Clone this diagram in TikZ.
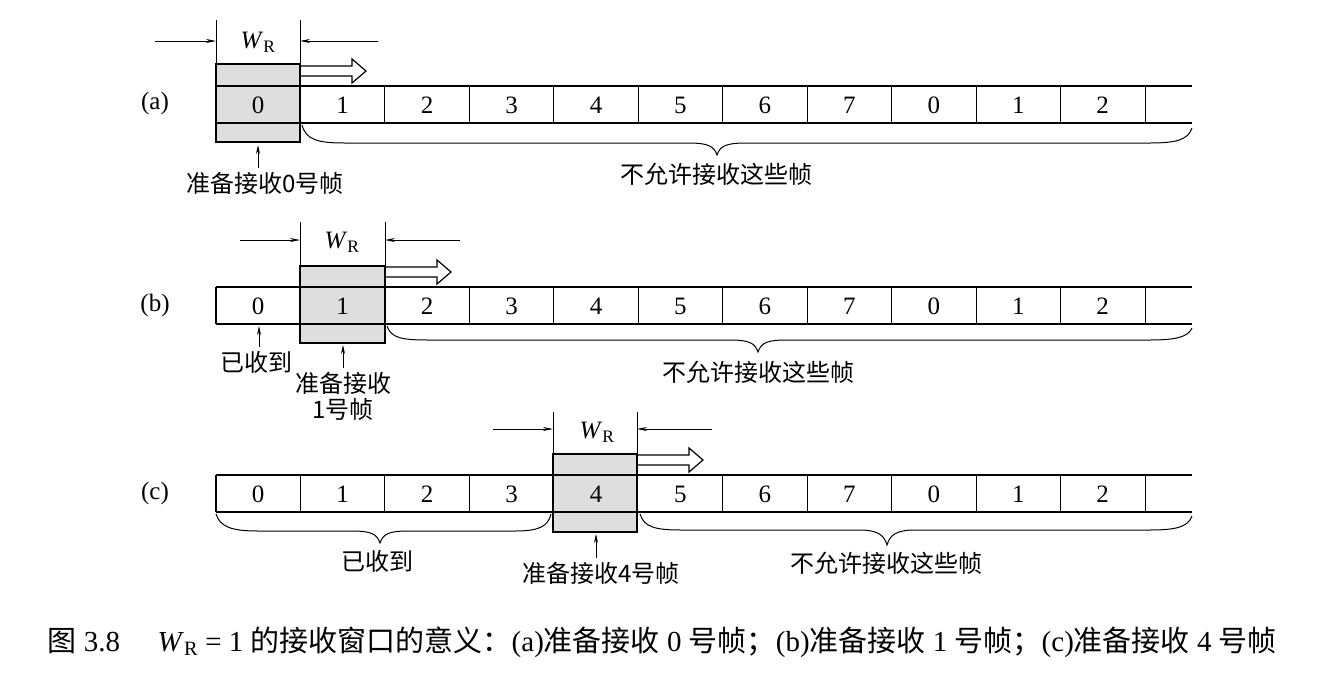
\documentclass[tikz,border=0pt]{standalone}
\usepackage{fontspec}
\setmainfont{Liberation Serif}
\newfontfamily\cjk{Noto Sans CJK SC}
\usetikzlibrary{arrows.meta}

\tikzset{
  win/.style={fill=black!13, line width=1.3pt},
  strip/.style={line width=1.6pt},
  cellsep/.style={line width=0.9pt},
  dim/.style={line width=0.6pt},
  dimarr/.style={line width=0.8pt, -{Stealth[length=10pt,width=4pt]}},
  uparr/.style={line width=0.8pt, -{Stealth[length=9pt,width=4pt]}},
  brc/.style={line width=1pt},
  hollow/.style={line width=1.2pt},
  num/.style={font=\fontsize{25}{28}\selectfont},
  zh/.style={font=\fontsize{24}{26}\selectfont\cjk},
}

\begin{document}
\begin{tikzpicture}[x=1pt,y=-1pt]
\useasboundingbox (0,0) rectangle (1318,678);

% (a)
\filldraw[win] (216,64) rectangle (300,142);
\draw[strip] (216,86) -- (1192,86) (216,123) -- (1192,123);
\foreach \i in {2,...,11} \draw[cellsep] ({216+84.45*\i},86) -- ++(0,37);
\draw[win, fill=none] (216,64) rectangle (300,142);
\foreach \n [count=\i from 0] in {0,1,2,3,4,5,6,7,0,1,2}
  \node[num] (a\i) at ({258.2+84.45*\i},105) {\n};
\draw[hollow] (300,66) -- (352,66) -- (352,59) -- (366,71) -- (352,83) -- (352,76) -- (300,76);
\node[num] (rowa) at (155,103) {(a)};
\draw[dim] (216,20) -- (216,64) (300,20) -- (300,64);
\node[num] (wra) at (258,42) {\textit{W}\textsubscript{R}};
\coordinate (wal) at (216,41);
\coordinate (war) at (300,41);
\draw[dimarr] (155,41) -- (wal);
\draw[dimarr] (378,41) -- (war);
\draw[brc] (302,125) .. controls (306,140) and (318,143) .. (345,143) -- (688,143)
  .. controls (708,143) and (714,146) .. (717,155) .. controls (720,146) and (726,143) .. (746,143)
  -- (1150,143) .. controls (1176,143) and (1188,140) .. (1192,128);
\node[zh] (noa) at (716,174) {不允许接收这些帧};
\node[zh] (rdya) at (265,183) {准备接收0号帧};
\coordinate (ta) at (258,145);
\draw[uparr] (ta |- rdya.north) -- (ta);

% (b)
\filldraw[win] (300,266) rectangle (385,343);
\draw[strip] (216,287) -- (1192,287) (216,324) -- (1192,324) (216,287) -- (216,324);
\foreach \i in {3,...,11} \draw[cellsep] ({216+84.45*\i},287) -- ++(0,37);
\draw[win, fill=none] (300,266) rectangle (385,343);
\foreach \n [count=\i from 0] in {0,1,2,3,4,5,6,7,0,1,2}
  \node[num] (b\i) at ({258.2+84.45*\i},306) {\n};
\draw[hollow] (385,267) -- (437,267) -- (437,260) -- (451,272) -- (437,284) -- (437,277) -- (385,277);
\node[num] (rowb) at (155,305) {(b)};
\draw[dim] (300,222) -- (300,266) (385,222) -- (385,266);
\node[num] (wrb) at (342,242) {\textit{W}\textsubscript{R}};
\coordinate (wbl) at (300,240);
\coordinate (wbr) at (385,240);
\draw[dimarr] (240,240) -- (wbl);
\draw[dimarr] (460,240) -- (wbr);
\draw[brc] (387,326) .. controls (391,338) and (402,340) .. (428,340) -- (730,340)
  .. controls (749,340) and (755,343) .. (758,352) .. controls (761,343) and (767,340) .. (786,340)
  -- (1150,340) .. controls (1176,340) and (1188,337) .. (1192,328);
\node[zh] (nob) at (758,372) {不允许接收这些帧};
\node[zh] (gotb) at (256,362) {已收到};
\coordinate (tb0) at (259,326);
\draw[uparr] (tb0 |- gotb.north) -- (tb0);
\node[zh, align=center] (rdyb) at (343,396) {准备接收\\1号帧};
\coordinate (tb1) at (343,345);
\draw[uparr] (tb1 |- rdyb.north) -- (tb1);

% (c)
\filldraw[win] (553,454) rectangle (637,532);
\draw[strip] (216,475) -- (1192,475) (216,512) -- (1192,512) (216,475) -- (216,512);
\foreach \i in {1,2,3,6,7,8,9,10,11} \draw[cellsep] ({216+84.45*\i},475) -- ++(0,37);
\draw[win, fill=none] (553,454) rectangle (637,532);
\foreach \n [count=\i from 0] in {0,1,2,3,4,5,6,7,0,1,2}
  \node[num] (c\i) at ({258.2+84.45*\i},494) {\n};
\draw[hollow] (637,455) -- (689,455) -- (689,448) -- (703,460) -- (689,472) -- (689,465) -- (637,465);
\node[num] (rowc) at (155,493) {(c)};
\draw[dim] (553,412) -- (553,454) (637,412) -- (637,454);
\node[num] (wrc) at (597,432) {\textit{W}\textsubscript{R}};
\coordinate (wcl) at (553,429);
\coordinate (wcr) at (637,429);
\draw[dimarr] (493,429) -- (wcl);
\draw[dimarr] (712,429) -- (wcr);
\draw[brc] (216,514) .. controls (220,527) and (232,531) .. (258,531) -- (352,531)
  .. controls (371,531) and (377,534) .. (380,543) .. controls (383,534) and (389,531) .. (408,531)
  -- (515,531) .. controls (538,531) and (548,527) .. (551,514);
\draw[brc] (640,514) .. controls (644,527) and (655,530) .. (681,530) -- (859,530)
  .. controls (878,530) and (884,535) .. (887,545) .. controls (890,535) and (896,530) .. (915,530)
  -- (1150,530) .. controls (1176,530) and (1188,527) .. (1192,516);
\node[zh] (gotc) at (377,561) {已收到};
\node[zh] (rdyc) at (601,573) {准备接收4号帧};
\coordinate (tc) at (596,534);
\draw[uparr] (tc |- rdyc.north) -- (tc);
\node[zh] (noc) at (886,563) {不允许接收这些帧};

% caption
\node[anchor=west, font=\fontsize{29}{32}\selectfont] (cap) at (44,642)
  {{\cjk 图} 3.8\hspace{1.3em}\textit{W}\textsubscript{R} = 1 {\cjk 的接收窗口的意义：}(a){\cjk 准备接收} 0 {\cjk 号帧；}(b){\cjk 准备接收} 1 {\cjk 号帧；}(c){\cjk 准备接收} 4 {\cjk 号帧}};
\end{tikzpicture}
\end{document}
